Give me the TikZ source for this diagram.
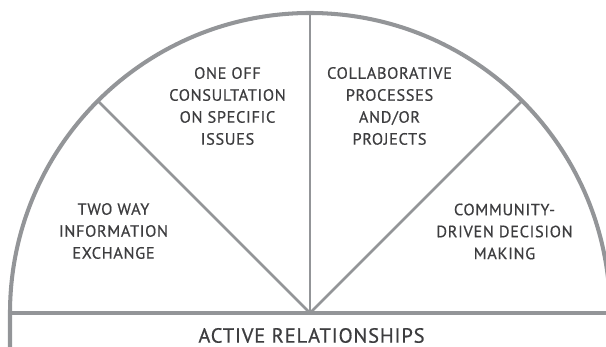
\documentclass[tikz,border=0pt]{standalone}
\usepackage{fontspec}
\setmainfont{PT Sans}[LetterSpace=4, FakeBold=0.6]
\usetikzlibrary{calc}
\definecolor{rimgray}{HTML}{939598}
\definecolor{labelgray}{HTML}{3d3d3f}
\tikzset{
  rim/.style={draw=rimgray, line width=2.3pt},
  basebar/.style={draw=rimgray, line width=2.6pt},
  spoke/.style={draw=rimgray, line width=1.6pt},
  stagetext/.style={text=labelgray, align=center, inner sep=0pt, font=\fontsize{9.3}{12.5}\selectfont},
}

\begin{document}
\begin{tikzpicture}
                \useasboundingbox (0,0) rectangle (12.12,6.94);
                \clip (0,0) rectangle (12.12,6.94);

                % hub of the fan and the points on its rim
                \coordinate (hub)   at (6.2, 0.68);
                \coordinate (rimL)  at (0.2, 0.68);
                \coordinate (rimR)  at (12.2, 0.68);
                \coordinate (footL) at (0.2, -0.1);
                \coordinate (footR) at (12.2, -0.1);
                \coordinate (rimNW) at ($(hub)+(135:6)$);
                \coordinate (rimN)  at ($(hub)+(90:6)$);
                \coordinate (rimNE) at ($(hub)+(45:6)$);

                \draw[rim] (footL) -- (rimL) arc[start angle=180, end angle=0, radius=6] -- (footR);
                \draw[basebar] (rimL) -- (rimR);

                \draw[spoke] (hub) -- (rimNW);
                \draw[spoke] (hub) -- (rimN);
                \draw[spoke] (hub) -- (rimNE);

                \node[stagetext] (twoway)    at (2.27, 2.32) {TWO WAY\\INFORMATION\\EXCHANGE};
                \node[stagetext] (oneoff)    at (4.55, 4.82) {ONE OFF\\CONSULTATION\\ON SPECIFIC\\ISSUES};
                \node[stagetext] (collab)    at (7.79, 4.82) {COLLABORATIVE\\PROCESSES\\AND/OR\\PROJECTS};
                \node[stagetext] (community) at (10.09, 2.31) {COMMUNITY-\\DRIVEN DECISION\\MAKING};

                \node[text=labelgray, font=\fontsize{11.7}{12}\selectfont] (active) at (6.23, 0.23) {ACTIVE RELATIONSHIPS};
            \end{tikzpicture}
\end{document}
